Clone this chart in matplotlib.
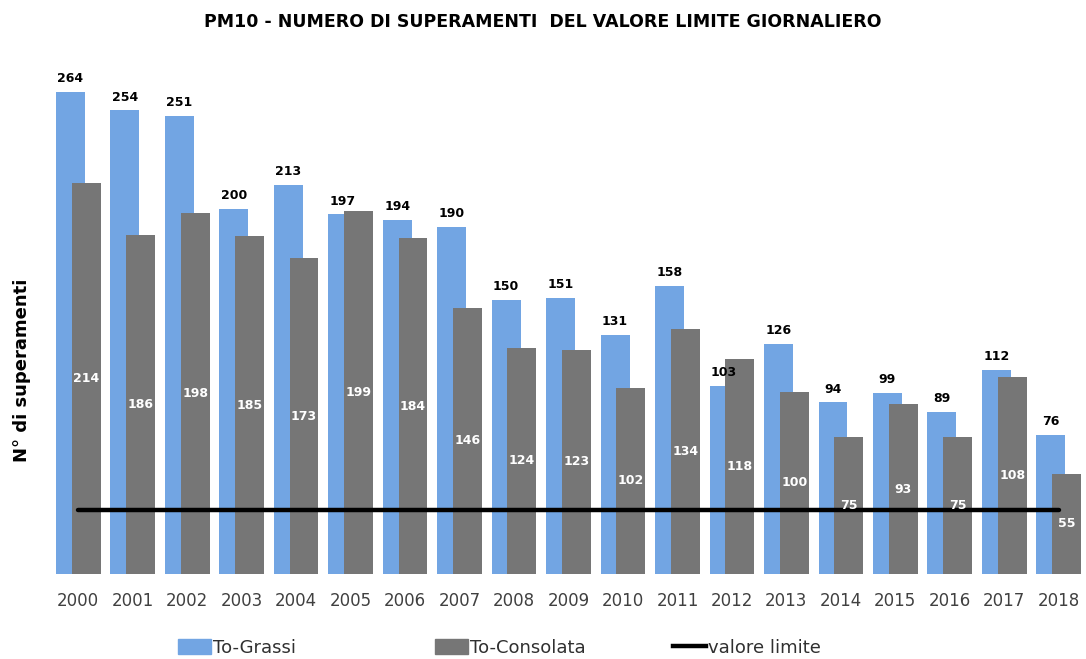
import matplotlib.pyplot as plt
from matplotlib.patches import Patch
from matplotlib.lines import Line2D

years = [str(y) for y in range(2000, 2019)]
grassi = [264, 254, 251, 200, 213, 197, 194, 190, 150, 151, 131, 158, 103, 126, 94, 99, 89, 112, 76]
consolata = [214, 186, 198, 185, 173, 199, 184, 146, 124, 123, 102, 134, 118, 100, 75, 93, 75, 108, 55]
limite = 35

BLUE = '#72A5E3'
GRAY = '#767676'

fig = plt.figure(figsize=(10.86, 6.59), dpi=100)
# asse: zero a y=574 px, 280 a y=63 px
ax = fig.add_axes([51 / 1086, 85 / 659, 1035 / 1086, 511 / 659])

x = list(range(len(years)))
w = 0.53
off = 0.145
xg = [i - off for i in x]
xc = [i + off for i in x]

ax.bar(xg, grassi, w, color=BLUE, zorder=2)
ax.bar(xc, consolata, w, color=GRAY, zorder=3)
ax.plot([x[0], x[-1]], [limite, limite], color='black', lw=3.2,
        solid_capstyle='round', zorder=4)

for xi, v in zip(xg, grassi):
    ax.annotate(str(v), (xi, v), xytext=(0, 5), textcoords='offset points',
                ha='center', va='bottom', fontsize=9, fontweight='bold',
                color='black', zorder=5)
for xi, v in zip(xc, consolata):
    ax.text(xi, v / 2, str(v), ha='center', va='center', fontsize=9,
            fontweight='bold', color='white', zorder=5)

ax.set_xlim(-0.5, len(years) - 0.5)
ax.set_ylim(0, 280)
ax.set_xticks(x)
ax.set_xticklabels(years, fontsize=12, color='#404040')
ax.tick_params(axis='x', length=0, pad=13)
ax.set_yticks([])
for s in ax.spines.values():
    s.set_visible(False)

fig.text(22 / 1086, 1 - 370 / 659, 'N° di superamenti', rotation=90,
         ha='center', va='center', fontsize=13, fontweight='bold')
fig.text(0.5, 1 - 22 / 659, 'PM10 - NUMERO DI SUPERAMENTI  DEL VALORE LIMITE GIORNALIERO',
         ha='center', va='center', fontsize=12.5, fontweight='bold')

# legenda: tre voci a colonne fisse come in Excel
handles = [Patch(color=BLUE), Patch(color=GRAY), Line2D([], [], color='black', lw=3.2)]
labels = ['To-Grassi', 'To-Consolata', 'valore limite']
xpos = [178, 435, 673]
for h, lab, xp in zip(handles, labels, xpos):
    fig.legend([h], [lab], loc='center left', bbox_to_anchor=(xp / 1086, 11 / 659),
               frameon=False, fontsize=13, handlelength=1.8, handleheight=0.9,
               handletextpad=0.15, borderpad=0, borderaxespad=0,
               labelcolor='#303030')

fig.savefig('out.png', dpi=100)
